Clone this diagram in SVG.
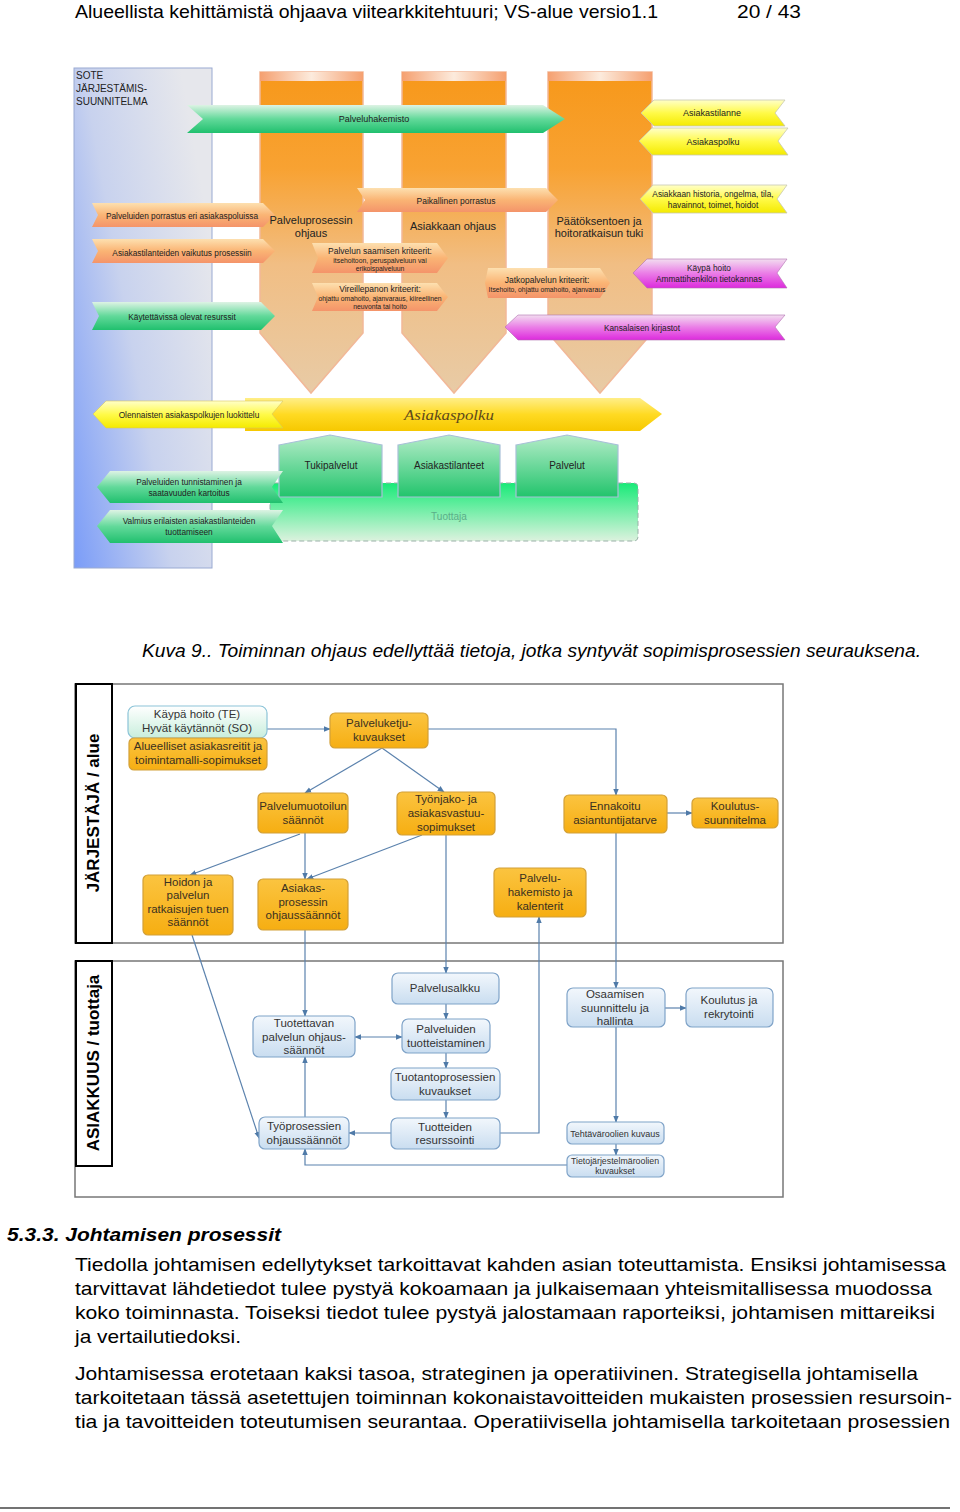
<svg xmlns="http://www.w3.org/2000/svg" width="960" height="1512" viewBox="0 0 960 1512">
<defs>
<style>
.t{font-family:"Liberation Sans",Arial,sans-serif;fill:#222}
.s8{font-size:8.5px}
.s7{font-size:6.8px}
.s9{font-size:9px}
.s11{font-size:11px}
.c{text-anchor:middle}
.on{fill:url(#gNodeO);stroke:#D2A038;stroke-width:1.2}
.bn{fill:url(#gNodeB);stroke:#7FA3C8;stroke-width:1.2}
.ot{font-family:"Liberation Sans",Arial,sans-serif;font-size:11.5px;fill:#3a3020;text-anchor:middle}
.bt{font-family:"Liberation Sans",Arial,sans-serif;font-size:11.5px;fill:#333;text-anchor:middle}
.cn{fill:none;stroke:#5B82AD;stroke-width:1.2}
.body{font-family:"Liberation Sans",Arial,sans-serif;font-size:19px;fill:#000}
.lane{fill:#fff;stroke:#000;stroke-width:2}
.frame{fill:none;stroke:#777;stroke-width:1.5}
</style>
<linearGradient id="gLeft" x1="0" y1="1" x2="1" y2="0.35">
<stop offset="0" stop-color="#7A9CF8"/><stop offset="0.5" stop-color="#C8D2EE"/><stop offset="1" stop-color="#E6E7EC"/>
</linearGradient>
<linearGradient id="gCol" x1="0" y1="0" x2="0" y2="1">
<stop offset="0" stop-color="#F7981A"/><stop offset="0.3" stop-color="#F8A232"/><stop offset="0.6" stop-color="#F1BE84"/><stop offset="1" stop-color="#E8CBA6"/>
</linearGradient>
<linearGradient id="gColTop" x1="0" y1="0" x2="1" y2="0">
<stop offset="0" stop-color="#F5A070"/><stop offset="0.5" stop-color="#FCEBDD"/><stop offset="1" stop-color="#F5A070"/>
</linearGradient>
<linearGradient id="gGreen" x1="0" y1="0" x2="0" y2="1">
<stop offset="0" stop-color="#DDF3E4"/><stop offset="0.5" stop-color="#62D99A"/><stop offset="1" stop-color="#20C06E"/>
</linearGradient>
<linearGradient id="gOr" x1="0" y1="0" x2="0" y2="1">
<stop offset="0" stop-color="#FDE0B0"/><stop offset="0.5" stop-color="#FAB474"/><stop offset="1" stop-color="#F4946A"/>
</linearGradient>
<linearGradient id="gYel" x1="0" y1="0" x2="0" y2="1">
<stop offset="0" stop-color="#FFFFC8"/><stop offset="0.5" stop-color="#FFFA48"/><stop offset="1" stop-color="#F4EA00"/>
</linearGradient>
<linearGradient id="gBigY" x1="0" y1="0" x2="0" y2="1">
<stop offset="0" stop-color="#FFEE88"/><stop offset="0.5" stop-color="#FFDA22"/><stop offset="1" stop-color="#F6C800"/>
</linearGradient>
<linearGradient id="gPink" x1="0" y1="0" x2="0" y2="1">
<stop offset="0" stop-color="#F2DDF0"/><stop offset="0.5" stop-color="#EA7CE6"/><stop offset="1" stop-color="#DD2ADD"/>
</linearGradient>
<linearGradient id="gHouse" x1="0" y1="0" x2="0" y2="1">
<stop offset="0" stop-color="#B4ECC8"/><stop offset="1" stop-color="#22C46C"/>
</linearGradient>
<linearGradient id="gPlat" x1="0" y1="0" x2="0" y2="1">
<stop offset="0" stop-color="#18EA78"/><stop offset="1" stop-color="#DCF2DE"/>
</linearGradient>
<linearGradient id="gNodeO" x1="0" y1="0" x2="0" y2="1">
<stop offset="0" stop-color="#FBC440"/><stop offset="1" stop-color="#F6AE12"/>
</linearGradient>
<linearGradient id="gNodeB" x1="0" y1="0" x2="0" y2="1">
<stop offset="0" stop-color="#F2F7FC"/><stop offset="1" stop-color="#C9DDF0"/>
</linearGradient>
<linearGradient id="gNodeG" x1="0" y1="0" x2="0" y2="1">
<stop offset="0" stop-color="#FFFFFF"/><stop offset="1" stop-color="#C8EEDC"/>
</linearGradient>
<marker id="ar" viewBox="0 0 10 10" refX="9" refY="5" markerWidth="7" markerHeight="7" orient="auto-start-reverse" markerUnits="userSpaceOnUse">
<path d="M0,1 L10,5 L0,9 z" fill="#4F7AA8"/>
</marker>
</defs>

<!-- header -->
<text class="body" x="75" y="18" font-size="18" textLength="583" lengthAdjust="spacingAndGlyphs">Alueellista kehittämistä ohjaava viitearkkitehtuuri; VS-alue versio1.1</text>
<text class="body" x="737" y="18" font-size="19" textLength="64" lengthAdjust="spacingAndGlyphs">20 / 43</text>

<!-- ===== Top figure ===== -->
<g id="sote-panel">
<rect x="74" y="68" width="138" height="500" fill="url(#gLeft)" stroke="#9AAAD2" stroke-width="1"/>
<text class="t" x="76" y="79" font-size="10">SOTE</text>
<text class="t" x="76" y="92" font-size="10">JÄRJESTÄMIS-</text>
<text class="t" x="76" y="105" font-size="10">SUUNNITELMA</text>
</g>

<g id="columns">
<polygon points="260,72 363,72 363,333 311,393 260,333" fill="url(#gCol)" stroke="#F2B898" stroke-width="1.5"/>
<rect x="260" y="72" width="103" height="9" fill="url(#gColTop)"/>
<polygon points="402,72 506,72 506,333 454,393 402,333" fill="url(#gCol)" stroke="#F2B898" stroke-width="1.5"/>
<rect x="402" y="72" width="104" height="9" fill="url(#gColTop)"/>
<polygon points="548,72 652,72 652,333 600,393 548,333" fill="url(#gCol)" stroke="#F2B898" stroke-width="1.5"/>
<rect x="548" y="72" width="104" height="9" fill="url(#gColTop)"/>
</g>

<g id="palveluhakemisto">
<polygon points="187,105 543,105 565,119 543,133 187,133 203,119" fill="url(#gGreen)"/>
<text class="t s9 c" x="374" y="122">Palveluhakemisto</text>
</g>

<g id="asiakastilanne">
<polygon points="641,113 654,100 785,100 775,113 785,126 654,126" fill="url(#gYel)" stroke="#C8C8B0" stroke-width="0.8"/>
<text class="t s9 c" x="712" y="116">Asiakastilanne</text>
</g>
<g id="asiakaspolku-small">
<polygon points="639,141 652,128 788,128 778,141 788,155 652,155" fill="url(#gYel)" stroke="#C8C8B0" stroke-width="0.8"/>
<text class="t s9 c" x="713" y="145">Asiakaspolku</text>
</g>
<g id="historia">
<polygon points="640,199 653,185 787,185 777,199 787,213 653,213" fill="url(#gYel)" stroke="#C8C8B0" stroke-width="0.8"/>
<text class="t c" font-size="8.3" x="713" y="197">Asiakkaan historia, ongelma, tila,</text>
<text class="t c" font-size="8.3" x="713" y="208">havainnot, toimet, hoidot</text>
</g>
<g id="kaypa-hoito-db">
<polygon points="633,273 647,259 787,259 777,273 787,288 647,288" fill="url(#gPink)" stroke="#B070B0" stroke-width="0.6"/>
<text class="t c" font-size="8.3" x="709" y="271">Käypä hoito</text>
<text class="t c" font-size="8.3" x="709" y="282">Ammattihenkilön tietokannas</text>
</g>
<g id="kansalaisen-kirjastot">
<polygon points="505,327 518,315 785,315 775,327 785,340 518,340" fill="url(#gPink)" stroke="#B070B0" stroke-width="0.6"/>
<text class="t c" font-size="8.3" x="642" y="331">Kansalaisen kirjastot</text>
</g>

<g id="porrastus">
<polygon points="92,203 263,203 275,215 263,227 92,227 98,215" fill="url(#gOr)"/>
<text class="t c" font-size="8.3" x="182" y="219">Palveluiden porrastus eri asiakaspoluissa</text>
</g>
<g id="vaikutus">
<polygon points="92,239 263,239 275,251 263,263 92,263 98,251" fill="url(#gOr)"/>
<text class="t c" font-size="8.3" x="182" y="256">Asiakastilanteiden vaikutus prosessiin</text>
</g>
<g id="resurssit">
<polygon points="92,302 261,302 275,316 261,330 92,330 99,316" fill="url(#gGreen)"/>
<text class="t c" font-size="8.3" x="182" y="320">Käytettävissä olevat resurssit</text>
</g>

<g id="paikallinen">
<polygon points="357,188 546,188 558,200 546,212 357,212 365,200" fill="url(#gOr)"/>
<text class="t c" font-size="8.5" x="456" y="204">Paikallinen porrastus</text>
</g>
<g id="saamisen">
<polygon points="312,243 437,243 448,258 437,273 312,273 318,258" fill="url(#gOr)"/>
<text class="t c" font-size="8.5" x="380" y="254">Palvelun saamisen kriteerit:</text>
<text class="t s7 c" x="380" y="263">itsehoitoon, peruspalveluun vai</text>
<text class="t s7 c" x="380" y="271">erikoispalveluun</text>
</g>
<g id="vireillepanon">
<polygon points="312,283 437,283 448,297 437,311 312,311 318,297" fill="url(#gOr)"/>
<text class="t c" font-size="8.5" x="380" y="292">Vireillepanon kriteerit:</text>
<text class="t s7 c" x="380" y="301">ohjattu omahoito, ajanvaraus, kiireellinen</text>
<text class="t s7 c" x="380" y="309">neuvonta tai hoito</text>
</g>
<g id="jatkopalvelun">
<polygon points="488,268 600,268 610,283 600,298 488,298 485,283" fill="url(#gOr)"/>
<text class="t c" font-size="8.5" x="547" y="283">Jatkopalvelun kriteerit:</text>
<text class="t s7 c" x="547" y="292">Itsehoito, ohjattu omahoito, ajanvaraus</text>
</g>

<g id="column-labels">
<text class="t s11 c" x="311" y="224">Palveluprosessin</text>
<text class="t s11 c" x="311" y="237">ohjaus</text>
<text class="t s11 c" x="453" y="230">Asiakkaan ohjaus</text>
<text class="t s11 c" x="599" y="225">Päätöksentoen ja</text>
<text class="t s11 c" x="599" y="237">hoitoratkaisun tuki</text>
</g>

<g id="asiakaspolku-big">
<polygon points="245,398 640,398 662,414 640,431 245,431" fill="url(#gBigY)"/>
<text x="449" y="420" font-family="'Liberation Serif',serif" font-style="italic" font-size="15" fill="#5E4A1C" text-anchor="middle" textLength="90" lengthAdjust="spacingAndGlyphs">Asiakaspolku</text>
</g>
<g id="olennaisten">
<polygon points="93,414 106,401 283,401 272,414 283,428 106,428" fill="url(#gYel)" stroke="#D8C860" stroke-width="0.6"/>
<text class="t c" font-size="8.3" x="189" y="418">Olennaisten asiakaspolkujen luokittelu</text>
</g>

<g id="tuottaja">
<rect x="270" y="483" width="368" height="58" rx="4" fill="url(#gPlat)" stroke="#9AB0A8" stroke-width="1" stroke-dasharray="5,3"/>
<text class="t c" font-size="10" x="449" y="520" style="fill:#5AAE88">Tuottaja</text>
</g>
<g id="tukipalvelut">
<polygon points="279,445 330,435 382,445 382,497 279,497" fill="url(#gHouse)" stroke="#A8C0D8" stroke-width="1.2"/>
<text class="t c" font-size="10" x="331" y="469">Tukipalvelut</text>
</g>
<g id="asiakastilanteet">
<polygon points="398,445 449,435 500,445 500,497 398,497" fill="url(#gHouse)" stroke="#A8C0D8" stroke-width="1.2"/>
<text class="t c" font-size="10" x="449" y="469">Asiakastilanteet</text>
</g>
<g id="palvelut">
<polygon points="516,445 567,435 618,445 618,497 516,497" fill="url(#gHouse)" stroke="#A8C0D8" stroke-width="1.2"/>
<text class="t c" font-size="10" x="567" y="469">Palvelut</text>
</g>
<g id="tunnistaminen">
<polygon points="97,487 110,471 283,471 272,487 283,503 110,503" fill="url(#gGreen)"/>
<text class="t c" font-size="8.3" x="189" y="485">Palveluiden tunnistaminen ja</text>
<text class="t c" font-size="8.3" x="189" y="496">saatavuuden kartoitus</text>
</g>
<g id="valmius">
<polygon points="97,526 110,510 283,510 272,526 283,543 110,543" fill="url(#gGreen)"/>
<text class="t c" font-size="8.3" x="189" y="524">Valmius erilaisten asiakastilanteiden</text>
<text class="t c" font-size="8.3" x="189" y="535">tuottamiseen</text>
</g>

<text class="body" x="142" y="657" font-size="18" font-style="italic" textLength="779" lengthAdjust="spacingAndGlyphs">Kuva 9.. Toiminnan ohjaus edellyttää tietoja, jotka syntyvät sopimisprosessien seurauksena.</text>

<!-- ===== Bottom figure ===== -->
<g id="lane-jarjestaja">
<rect x="75" y="684" width="708" height="259" class="frame"/>
<rect x="76" y="684" width="36" height="259" class="lane"/>
<text x="0" y="0" transform="translate(99,813) rotate(-90)" font-family="'Liberation Sans',Arial,sans-serif" font-weight="bold" font-size="17" text-anchor="middle" fill="#000">JÄRJESTÄJÄ / alue</text>
</g>
<g id="lane-asiakkuus">
<rect x="75" y="961" width="708" height="236" class="frame"/>
<rect x="76" y="961" width="36" height="205" class="lane"/>
<text x="0" y="0" transform="translate(99,1063) rotate(-90)" font-family="'Liberation Sans',Arial,sans-serif" font-weight="bold" font-size="17" text-anchor="middle" fill="#000">ASIAKKUUS / tuottaja</text>
</g>

<g id="connectors">
<line class="cn" x1="267" y1="729" x2="330" y2="729" marker-end="url(#ar)"/>
<polyline class="cn" points="428,729 616,729 616,795" marker-end="url(#ar)"/>
<line class="cn" x1="382" y1="748" x2="305" y2="793" marker-end="url(#ar)"/>
<line class="cn" x1="382" y1="748" x2="444" y2="792" marker-end="url(#ar)"/>
<line class="cn" x1="305" y1="833" x2="305" y2="879" marker-end="url(#ar)"/>
<line class="cn" x1="300" y1="834" x2="190" y2="875" marker-end="url(#ar)"/>
<line class="cn" x1="422" y1="835" x2="307" y2="879" marker-end="url(#ar)"/>
<line class="cn" x1="667" y1="813" x2="692" y2="813" marker-end="url(#ar)"/>
<line class="cn" x1="616" y1="833" x2="616" y2="988" marker-end="url(#ar)"/>
<line class="cn" x1="446" y1="835" x2="446" y2="973" marker-end="url(#ar)"/>
<polyline class="cn" points="500,1133 539,1133 539,917" marker-end="url(#ar)"/>
<line class="cn" x1="192" y1="935" x2="259" y2="1138" marker-end="url(#ar)"/>
<line class="cn" x1="305" y1="930" x2="305" y2="1016" marker-end="url(#ar)"/>
<line class="cn" x1="446" y1="1004" x2="446" y2="1019" marker-end="url(#ar)"/>
<line class="cn" x1="446" y1="1053" x2="446" y2="1068" marker-end="url(#ar)"/>
<line class="cn" x1="446" y1="1100" x2="446" y2="1118" marker-end="url(#ar)"/>
<line class="cn" x1="355" y1="1037" x2="402" y2="1037" marker-start="url(#ar)" marker-end="url(#ar)"/>
<line class="cn" x1="391" y1="1133" x2="349" y2="1133" marker-end="url(#ar)"/>
<line class="cn" x1="305" y1="1117" x2="305" y2="1057" marker-end="url(#ar)"/>
<polyline class="cn" points="567,1165 305,1165 305,1149" marker-end="url(#ar)"/>
<line class="cn" x1="616" y1="1027" x2="616" y2="1122" marker-end="url(#ar)"/>
<line class="cn" x1="616" y1="1144" x2="616" y2="1155" marker-end="url(#ar)"/>
<line class="cn" x1="665" y1="1008" x2="686" y2="1008" marker-end="url(#ar)"/>
</g>

<g id="n-kaypa">
<rect x="128" y="706" width="139" height="32" rx="7" fill="url(#gNodeG)" stroke="#8CC4D8" stroke-width="1.2"/>
<text class="bt" x="197" y="718">Käypä hoito (TE)</text>
<text class="bt" x="197" y="732">Hyvät käytännöt (SO)</text>
</g>
<g id="n-alueelliset">
<rect x="129" y="738" width="138" height="32" rx="5" class="on"/>
<text class="ot" x="198" y="750">Alueelliset asiakasreitit ja</text>
<text class="ot" x="198" y="764">toimintamalli-sopimukset</text>
</g>
<g id="n-palveluketju">
<rect x="330" y="713" width="98" height="35" rx="5" class="on"/>
<text class="ot" x="379" y="727">Palveluketju-</text>
<text class="ot" x="379" y="741">kuvaukset</text>
</g>
<g id="n-palvelumuotoilun">
<rect x="258" y="793" width="90" height="40" rx="5" class="on"/>
<text class="ot" x="303" y="810">Palvelumuotoilun</text>
<text class="ot" x="303" y="824">säännöt</text>
</g>
<g id="n-tyonjako">
<rect x="397" y="792" width="98" height="43" rx="5" class="on"/>
<text class="ot" x="446" y="803">Työnjako- ja</text>
<text class="ot" x="446" y="817">asiakasvastuu-</text>
<text class="ot" x="446" y="831">sopimukset</text>
</g>
<g id="n-hoidon">
<rect x="143" y="875" width="90" height="60" rx="5" class="on"/>
<text class="ot" x="188" y="886">Hoidon ja</text>
<text class="ot" x="188" y="899">palvelun</text>
<text class="ot" x="188" y="913">ratkaisujen tuen</text>
<text class="ot" x="188" y="926">säännöt</text>
</g>
<g id="n-asiakasprosessin">
<rect x="258" y="879" width="90" height="51" rx="5" class="on"/>
<text class="ot" x="303" y="892">Asiakas-</text>
<text class="ot" x="303" y="906">prosessin</text>
<text class="ot" x="303" y="919">ohjaussäännöt</text>
</g>
<g id="n-ennakoitu">
<rect x="564" y="795" width="103" height="38" rx="5" class="on"/>
<text class="ot" x="615" y="810">Ennakoitu</text>
<text class="ot" x="615" y="824">asiantuntijatarve</text>
</g>
<g id="n-koulutussuunnitelma">
<rect x="692" y="798" width="86" height="30" rx="5" class="on"/>
<text class="ot" x="735" y="810">Koulutus-</text>
<text class="ot" x="735" y="824">suunnitelma</text>
</g>
<g id="n-palveluhakemisto">
<rect x="494" y="868" width="92" height="49" rx="5" class="on"/>
<text class="ot" x="540" y="882">Palvelu-</text>
<text class="ot" x="540" y="896">hakemisto ja</text>
<text class="ot" x="540" y="910">kalenterit</text>
</g>

<g id="n-palvelusalkku">
<rect x="392" y="973" width="107" height="31" rx="6" class="bn"/>
<text class="bt" x="445" y="992">Palvelusalkku</text>
</g>
<g id="n-tuotteistaminen">
<rect x="402" y="1019" width="88" height="34" rx="6" class="bn"/>
<text class="bt" x="446" y="1033">Palveluiden</text>
<text class="bt" x="446" y="1047">tuotteistaminen</text>
</g>
<g id="n-tuotantoprosessien">
<rect x="391" y="1068" width="109" height="32" rx="6" class="bn"/>
<text class="bt" x="445" y="1081">Tuotantoprosessien</text>
<text class="bt" x="445" y="1095">kuvaukset</text>
</g>
<g id="n-tuotteiden">
<rect x="391" y="1118" width="109" height="31" rx="6" class="bn"/>
<text class="bt" x="445" y="1131">Tuotteiden</text>
<text class="bt" x="445" y="1144">resurssointi</text>
</g>
<g id="n-tuotettavan">
<rect x="253" y="1016" width="102" height="41" rx="6" class="bn"/>
<text class="bt" x="304" y="1027">Tuotettavan</text>
<text class="bt" x="304" y="1041">palvelun ohjaus-</text>
<text class="bt" x="304" y="1054">säännöt</text>
</g>
<g id="n-tyoprosessien">
<rect x="259" y="1117" width="90" height="32" rx="6" class="bn"/>
<text class="bt" x="304" y="1130">Työprosessien</text>
<text class="bt" x="304" y="1144">ohjaussäännöt</text>
</g>
<g id="n-osaamisen">
<rect x="567" y="988" width="98" height="39" rx="6" class="bn"/>
<text class="bt" x="615" y="998">Osaamisen</text>
<text class="bt" x="615" y="1012">suunnittelu ja</text>
<text class="bt" x="615" y="1025">hallinta</text>
</g>
<g id="n-koulutusjarekry">
<rect x="686" y="988" width="87" height="39" rx="6" class="bn"/>
<text class="bt" x="729" y="1004">Koulutus ja</text>
<text class="bt" x="729" y="1018">rekrytointi</text>
</g>
<g id="n-tehtavaroolien">
<rect x="567" y="1122" width="97" height="22" rx="5" class="bn"/>
<text class="bt" x="615" y="1137" style="font-size:9px">Tehtäväroolien kuvaus</text>
</g>
<g id="n-tietojarjestelma">
<rect x="567" y="1155" width="97" height="22" rx="5" class="bn"/>
<text class="bt" x="615" y="1164" style="font-size:8.8px">Tietojärjestelmäroolien</text>
<text class="bt" x="615" y="1174" style="font-size:8.8px">kuvaukset</text>
</g>

<!-- ===== Text ===== -->
<text class="body" x="7" y="1241" font-weight="bold" font-style="italic" textLength="274" lengthAdjust="spacingAndGlyphs">5.3.3. Johtamisen prosessit</text>
<text class="body" x="75" y="1271" textLength="871" lengthAdjust="spacingAndGlyphs">Tiedolla johtamisen edellytykset tarkoittavat kahden asian toteuttamista. Ensiksi johtamisessa</text>
<text class="body" x="75" y="1295" textLength="857" lengthAdjust="spacingAndGlyphs">tarvittavat lähdetiedot tulee pystyä kokoamaan ja julkaisemaan yhteismitallisessa muodossa</text>
<text class="body" x="75" y="1319" textLength="860" lengthAdjust="spacingAndGlyphs">koko toiminnasta. Toiseksi tiedot tulee pystyä jalostamaan raporteiksi, johtamisen mittareiksi</text>
<text class="body" x="75" y="1343" textLength="166" lengthAdjust="spacingAndGlyphs">ja vertailutiedoksi.</text>
<text class="body" x="75" y="1380" textLength="843" lengthAdjust="spacingAndGlyphs">Johtamisessa erotetaan kaksi tasoa, strateginen ja operatiivinen. Strategisella johtamisella</text>
<text class="body" x="75" y="1404" textLength="877" lengthAdjust="spacingAndGlyphs">tarkoitetaan tässä asetettujen toiminnan kokonaistavoitteiden mukaisten prosessien resursoin-</text>
<text class="body" x="75" y="1428" textLength="875" lengthAdjust="spacingAndGlyphs">tia ja tavoitteiden toteutumisen seurantaa.  Operatiivisella johtamisella tarkoitetaan prosessien</text>
<line x1="0" y1="1508" x2="950" y2="1508" stroke="#444" stroke-width="1.5"/>
</svg>
